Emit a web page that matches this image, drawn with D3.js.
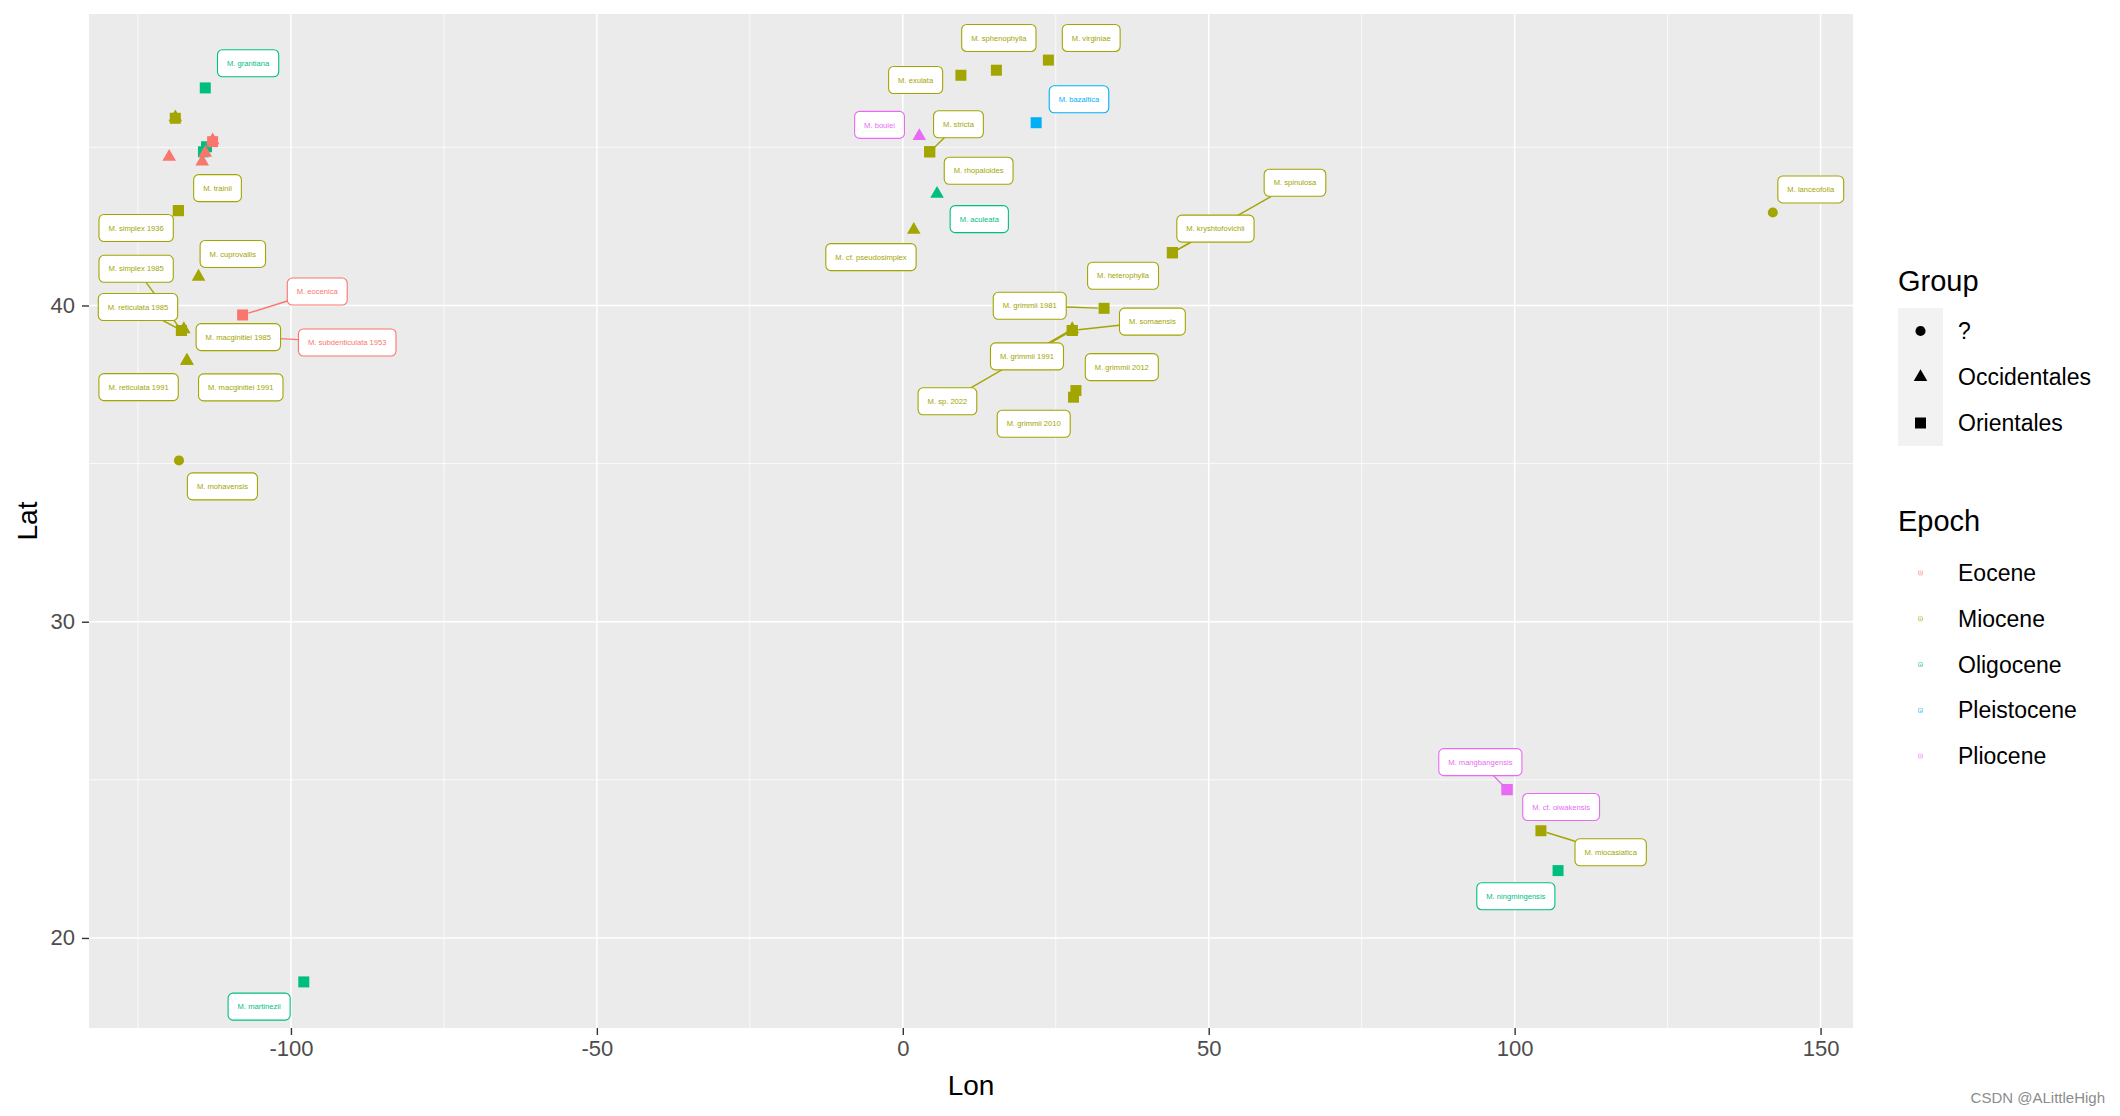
<!DOCTYPE html>
<html><head><meta charset="utf-8">
<script src="https://cdn.jsdelivr.net/npm/d3@7"></script>
<style>body{margin:0;background:#fff} svg{display:block;font-family:"Liberation Sans",Arial,sans-serif}</style>
</head><body><svg id="chart" width="2120" height="1116"></svg>
<script>
// ---------------- data ----------------
const pointName = ["", "", "", "", "", "", "", "", "",
  "M. grantiana", "M. trainii", "M. simplex 1936", "M. cuprovallis", "M. macginitiei 1985", "M. simplex 1985", "M. reticulata 1985",
  "M. eocenica", "M. subdenticulata 1953", "M. reticulata 1991", "M. macginitiei 1991", "M. mohavensis", "M. martinezii",
  "M. exulata", "M. sphenophylla", "M. virginiae", "M. bazaltica", "M. boulei", "M. stricta", "M. rhopaloides", "M. aculeata", "M. cf. pseudosimplex",
  "M. kryshtofovichii", "M. spinulosa", "M. heterophylla", "M. grimmii 1981", "M. sp. 2022", "M. somaensis", "M. grimmii 1991", "M. grimmii 2012", "M. grimmii 2010", "M. lanceofolia",
  "M. mangbangensis", "M. cf. oiwakensis", "M. miocasiatica", "M. ningmingensis"];
const pointLon = [-118.9, -118.9, -113.8, -114.3, -112.8, -112.8, -114.0, -119.9, -114.5,
  -114.0, -118.4, -118.4, -115.1, -117.5, -117.9, -117.9,
  -107.9, -104.2, -117.0, -117.0, -118.3, -97.9,
  9.5, 15.3, 23.8, 21.8, 2.7, 4.4, 4.4, 5.6, 1.8,
  44.07, 44.07, 44.07, 32.9, 27.7, 27.7, 27.7, 28.3, 27.9, 142.2,
  98.76, 98.76, 104.3, 107.1];
const pointLat = [45.95, 45.92, 45.02, 44.86, 45.22, 45.18, 44.83, 44.70, 44.55,
  46.88, 43.0, 43.0, 40.91, 39.25, 39.21, 39.21,
  39.70, 38.98, 38.25, 38.25, 35.10, 18.61,
  47.28, 47.44, 47.76, 45.78, 45.36, 44.86, 44.86, 43.53, 42.39,
  41.67, 41.67, 41.67, 39.91, 39.25, 39.21, 39.21, 37.31, 37.10, 42.94,
  24.69, 24.69, 23.39, 22.13];
const pointGroup = ["Occidentales", "Orientales", "Orientales", "Orientales", "Occidentales", "Orientales", "Occidentales", "Occidentales", "Occidentales",
  "Orientales", "Orientales", "Orientales", "Occidentales", "Occidentales", "Orientales", "Orientales",
  "Orientales", "Orientales", "Occidentales", "Occidentales", "?", "Orientales",
  "Orientales", "Orientales", "Orientales", "Orientales", "Occidentales", "Orientales", "Orientales", "Occidentales", "Occidentales",
  "Orientales", "Orientales", "Orientales", "Orientales", "Occidentales", "Orientales", "Orientales", "Orientales", "Orientales", "?",
  "Orientales", "Orientales", "Orientales", "Orientales"];
const pointEpoch = ["Miocene", "Miocene", "Oligocene", "Oligocene", "Eocene", "Eocene", "Eocene", "Eocene", "Eocene",
  "Oligocene", "Miocene", "Miocene", "Miocene", "Miocene", "Miocene", "Miocene",
  "Eocene", "Eocene", "Miocene", "Miocene", "Miocene", "Oligocene",
  "Miocene", "Miocene", "Miocene", "Pleistocene", "Pliocene", "Miocene", "Miocene", "Oligocene", "Miocene",
  "Miocene", "Miocene", "Miocene", "Miocene", "Miocene", "Miocene", "Miocene", "Miocene", "Miocene", "Miocene",
  "Pliocene", "Pliocene", "Miocene", "Oligocene"];
// repelled label positions (data units), null for unlabelled points
const labelLon = [null, null, null, null, null, null, null, null, null,
  -107.0, -112.0, -125.3, -109.5, -108.6, -125.3, -125.0,
  -95.7, -90.8, -124.9, -108.2, -111.2, -105.2,
  2.1, 15.7, 30.8, 28.8, -3.8, 9.1, 12.4, 12.5, -5.2,
  51.1, 64.1, 36.0, 20.75, 7.3, 40.8, 20.3, 35.8, 21.4, 148.4,
  94.4, 107.6, 115.7, 100.2];
const labelLat = [null, null, null, null, null, null, null, null, null,
  47.66, 43.71, 42.45, 41.63, 39.00, 41.16, 39.95,
  40.44, 38.83, 37.42, 37.41, 34.28, 17.83,
  47.13, 48.46, 48.46, 46.52, 45.71, 45.73, 44.26, 42.73, 41.53,
  42.43, 43.88, 40.94, 39.99, 36.97, 39.49, 38.39, 38.05, 36.26, 43.67,
  25.56, 24.14, 22.71, 21.32];
const labelSegment = [0, 0, 0, 0, 0, 0, 0, 0, 0,
  0, 0, 0, 0, 0, 1, 1,
  1, 1, 0, 0, 0, 0,
  0, 0, 0, 0, 0, 1, 0, 0, 0,
  1, 1, 0, 1, 1, 1, 1, 0, 0, 0,
  1, 0, 1, 0];

const groupLevels = ["?", "Occidentales", "Orientales"];
const epochLevels = ["Eocene", "Miocene", "Oligocene", "Pleistocene", "Pliocene"];
const epochColors = ["#F8766D", "#A3A500", "#00BF7D", "#00B0F6", "#E76BF3"];
const xTicks = [-100, -50, 0, 50, 100, 150];
const yTicks = [20, 30, 40];
const xMinor = [-125, -75, -25, 25, 75, 125];
const yMinor = [25, 35, 45];

// ---------------- layout ----------------
const svg = d3.select("#chart");
const P = {l: 89, r: 1853, t: 14, b: 1028};
const expand = e => { const d = (e[1] - e[0]) * 0.05; return [e[0] - d, e[1] + d]; };
const x = d3.scaleLinear().domain(expand(d3.extent(pointLon))).range([P.l, P.r]);
const y = d3.scaleLinear().domain(expand(d3.extent(pointLat))).range([P.b, P.t]);
const color = d3.scaleOrdinal().domain(epochLevels).range(epochColors);
const shapeOf = {"?": d3.symbolCircle, "Occidentales": d3.symbolTriangle, "Orientales": d3.symbolSquare};
const sizeOf = {"?": 80, "Occidentales": 80, "Orientales": 121};

svg.append("rect").attr("width", 2120).attr("height", 1116).attr("fill", "#fff");
svg.append("rect").attr("x", P.l).attr("y", P.t).attr("width", P.r - P.l).attr("height", P.b - P.t).attr("fill", "#EBEBEB");

const grid = svg.append("g");
grid.selectAll(".xm").data(xMinor).join("line").attr("x1", d => x(d)).attr("x2", d => x(d)).attr("y1", P.t).attr("y2", P.b).attr("stroke", "#fff").attr("stroke-width", 0.75);
grid.selectAll(".ym").data(yMinor).join("line").attr("y1", d => y(d)).attr("y2", d => y(d)).attr("x1", P.l).attr("x2", P.r).attr("stroke", "#fff").attr("stroke-width", 0.75);
grid.selectAll(".xM").data(xTicks).join("line").attr("x1", d => x(d)).attr("x2", d => x(d)).attr("y1", P.t).attr("y2", P.b).attr("stroke", "#fff").attr("stroke-width", 1.5);
grid.selectAll(".yM").data(yTicks).join("line").attr("y1", d => y(d)).attr("y2", d => y(d)).attr("x1", P.l).attr("x2", P.r).attr("stroke", "#fff").attr("stroke-width", 1.5);

// axes
const fmt = d => String(d);
const xa = svg.append("g").attr("transform", `translate(0,${P.b})`)
  .call(d3.axisBottom(x).tickValues(xTicks).tickSize(7).tickPadding(5).tickFormat(fmt));
const ya = svg.append("g").attr("transform", `translate(${P.l},0)`)
  .call(d3.axisLeft(y).tickValues(yTicks).tickSize(7).tickPadding(7).tickFormat(fmt));
[xa, ya].forEach(a => {
  a.select(".domain").remove();
  a.selectAll("line").attr("stroke", "#333").attr("stroke-width", 1.4);
  a.selectAll("text").attr("fill", "#4D4D4D").style("font-size", "22px").style("font-family", "Liberation Sans, Arial, sans-serif");
});
xa.selectAll("text").attr("dy", "0.71em");
svg.append("text").attr("x", (P.l + P.r) / 2).attr("y", 1095).attr("text-anchor", "middle").style("font-size", "28px").text("Lon");
svg.append("text").attr("transform", `translate(37,${(P.t + P.b) / 2}) rotate(-90)`).attr("text-anchor", "middle").style("font-size", "28px").text("Lat");

// points
const idx = d3.range(pointLon.length);
const sym = d3.symbol();
svg.append("g").selectAll("path").data(idx).join("path")
  .attr("transform", i => `translate(${x(pointLon[i])},${y(pointLat[i])})`)
  .attr("d", i => sym.type(shapeOf[pointGroup[i]]).size(sizeOf[pointGroup[i]])())
  .attr("fill", i => color(pointEpoch[i]));

// labels (segments below, boxes above)
const segLayer = svg.append("g");
const labLayer = svg.append("g");
const labelled = idx.filter(i => pointName[i] !== "");
const PAD = 9.5, BH = 27;
labelled.forEach(i => {
  const cx = x(labelLon[i]), cy = y(labelLat[i]);
  const g = labLayer.append("g").attr("transform", `translate(${cx},${cy})`);
  const rect = g.append("rect");
  const t = g.append("text").attr("text-anchor", "middle").attr("dy", "0.35em")
    .style("font-size", "7.6px").attr("fill", color(pointEpoch[i])).text(pointName[i]);
  const w = t.node().getComputedTextLength() + 2 * PAD;
  rect.attr("x", -w / 2).attr("y", -BH / 2).attr("width", w).attr("height", BH).attr("rx", 5).attr("ry", 5)
    .attr("fill", "#fff").attr("stroke", color(pointEpoch[i])).attr("stroke-width", 1.1);
  if (labelSegment[i]) {
    const px = x(pointLon[i]), py = y(pointLat[i]);
    const dx = px - cx, dy = py - cy, L = Math.hypot(dx, dy);
    const tt = Math.min((w / 2) / Math.abs(dx || 1e-9), (BH / 2) / Math.abs(dy || 1e-9));
    const sx = cx + dx * tt, sy = cy + dy * tt;
    const ex = px - dx / L * 6, ey = py - dy / L * 6;
    segLayer.append("line").attr("x1", sx).attr("y1", sy).attr("x2", ex).attr("y2", ey)
      .attr("stroke", color(pointEpoch[i])).attr("stroke-width", 1.4);
  }
});

// legend: Group
const lg = svg.append("g");
lg.append("text").attr("x", 1898).attr("y", 291).style("font-size", "29px").text("Group");
lg.append("rect").attr("x", 1898).attr("y", 308).attr("width", 45).attr("height", 138).attr("fill", "#F2F2F2");
groupLevels.forEach((g, k) => {
  const cy = 331 + k * 46;
  lg.append("path").attr("transform", `translate(1920.5,${cy})`).attr("d", sym.type(shapeOf[g]).size(sizeOf[g])()).attr("fill", "#000");
  lg.append("text").attr("x", 1958).attr("y", cy).attr("dy", "0.35em").style("font-size", "23px").text(g);
});
// legend: Epoch
lg.append("text").attr("x", 1898).attr("y", 531).style("font-size", "29px").text("Epoch");
epochLevels.forEach((e, k) => {
  const cy = 573 + k * 45.8;
  lg.append("rect").attr("x", 1918.5).attr("y", cy - 2).attr("width", 4).attr("height", 4).attr("rx", 0.6)
    .attr("fill", "#fff").attr("stroke", color(e)).attr("stroke-width", 0.6).attr("opacity", 0.8);
  lg.append("text").attr("x", 1920.5).attr("y", cy).attr("dy", "0.35em").attr("text-anchor", "middle").style("font-size", "3.5px").attr("fill", color(e)).text("a");
  lg.append("text").attr("x", 1958).attr("y", cy).attr("dy", "0.35em").style("font-size", "23px").text(e);
});

// watermark
svg.append("text").attr("x", 2105).attr("y", 1103).attr("text-anchor", "end").style("font-size", "15px").attr("fill", "#8c8c8c").text("CSDN @ALittleHigh");
</script></body></html>
